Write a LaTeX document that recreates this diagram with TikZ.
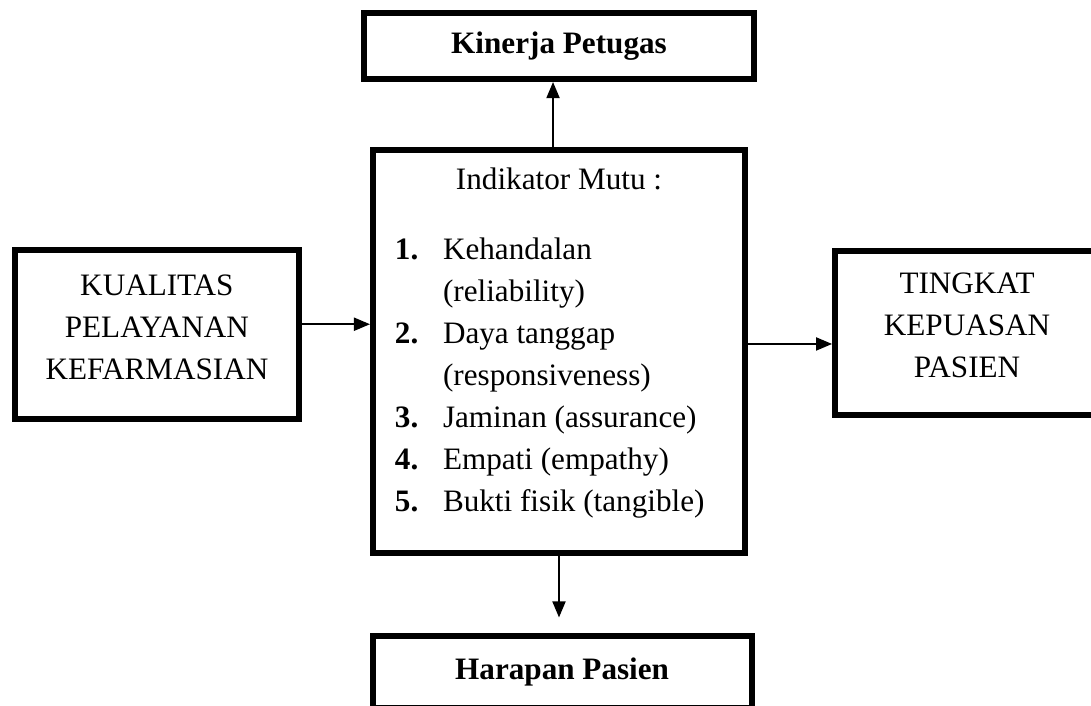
\documentclass[tikz,border=0pt]{standalone}
\usepackage{fontspec}
\setmainfont{Liberation Serif}
\usepackage{tikz}
\usetikzlibrary{arrows.meta}

\begin{document}
\begin{tikzpicture}[x=0.385pt,y=-0.385pt,font=\fontsize{12}{16.2}\selectfont,line width=0.8pt,
  >={Triangle[length=6.2pt,width=5pt]},main/.style={draw, rectangle, line width=2.3pt, inner sep=0pt}]
            \useasboundingbox (0,0) rectangle (1091,706);
            \clip (0,0) rectangle (1091,706);

            \node[main, minimum width=143.2pt, minimum height=155.2pt] (0) at (559,351.5) {};
            \node[main, minimum width=149.8pt, minimum height=25.4pt] (1) [above of=0, node distance=117.6pt] {\textbf{Kinerja Petugas}};
            \node[main, minimum width=109.3pt, minimum height=65.1pt, text depth=41.7pt, yshift=6.5pt] (2) [left of=0, node distance=154.8pt] {\begin{tabular}[t]{@{}c@{}}KUALITAS\\PELAYANAN\\KEFARMASIAN\end{tabular}};
            \node[main, minimum width=101.6pt, minimum height=63.1pt, text depth=42.1pt, yshift=7.1pt] (3) [right of=0, node distance=157.1pt] {\begin{tabular}[t]{@{}c@{}}TINGKAT\\KEPUASAN\\PASIEN\end{tabular}};
            \node[main, minimum width=145.9pt, minimum height=27.7pt, xshift=1.2pt] (4) [below of=0, node distance=123.4pt] {\textbf{Harapan Pasien}};

            \node[anchor=base, yshift=-16.4pt] (5) at (0.north) {Indikator Mutu :};
            \node[anchor=base west, inner sep=0pt, xshift=9.2pt, yshift=-26.8pt] (6) at (0.west |- 5.base) {\begin{tabular}[t]{@{}p{18.5pt}@{}l@{}}
              \textbf{1.} & Kehandalan\\
                          & (reliability)\\
              \textbf{2.} & Daya tanggap\\
                          & (responsiveness)\\
              \textbf{3.} & Jaminan (assurance)\\
              \textbf{4.} & Empati (empathy)\\
              \textbf{5.} & Bukti fisik (tangible)
            \end{tabular}};

            \draw[->] ([xshift=-2.3pt]0.north) -- ([xshift=-2.3pt]0.north |- 1.south);
            \draw[->, shorten >=6pt] (0.south) -- (0.south |- 4.north);
            \draw[->] ([yshift=4pt]2.east) -- ([yshift=4pt]2.east -| 0.west);
            \draw[->] ([yshift=-4.2pt]3.west -| 0.east) -- ([yshift=-4.2pt]3.west);
          \end{tikzpicture}
\end{document}
